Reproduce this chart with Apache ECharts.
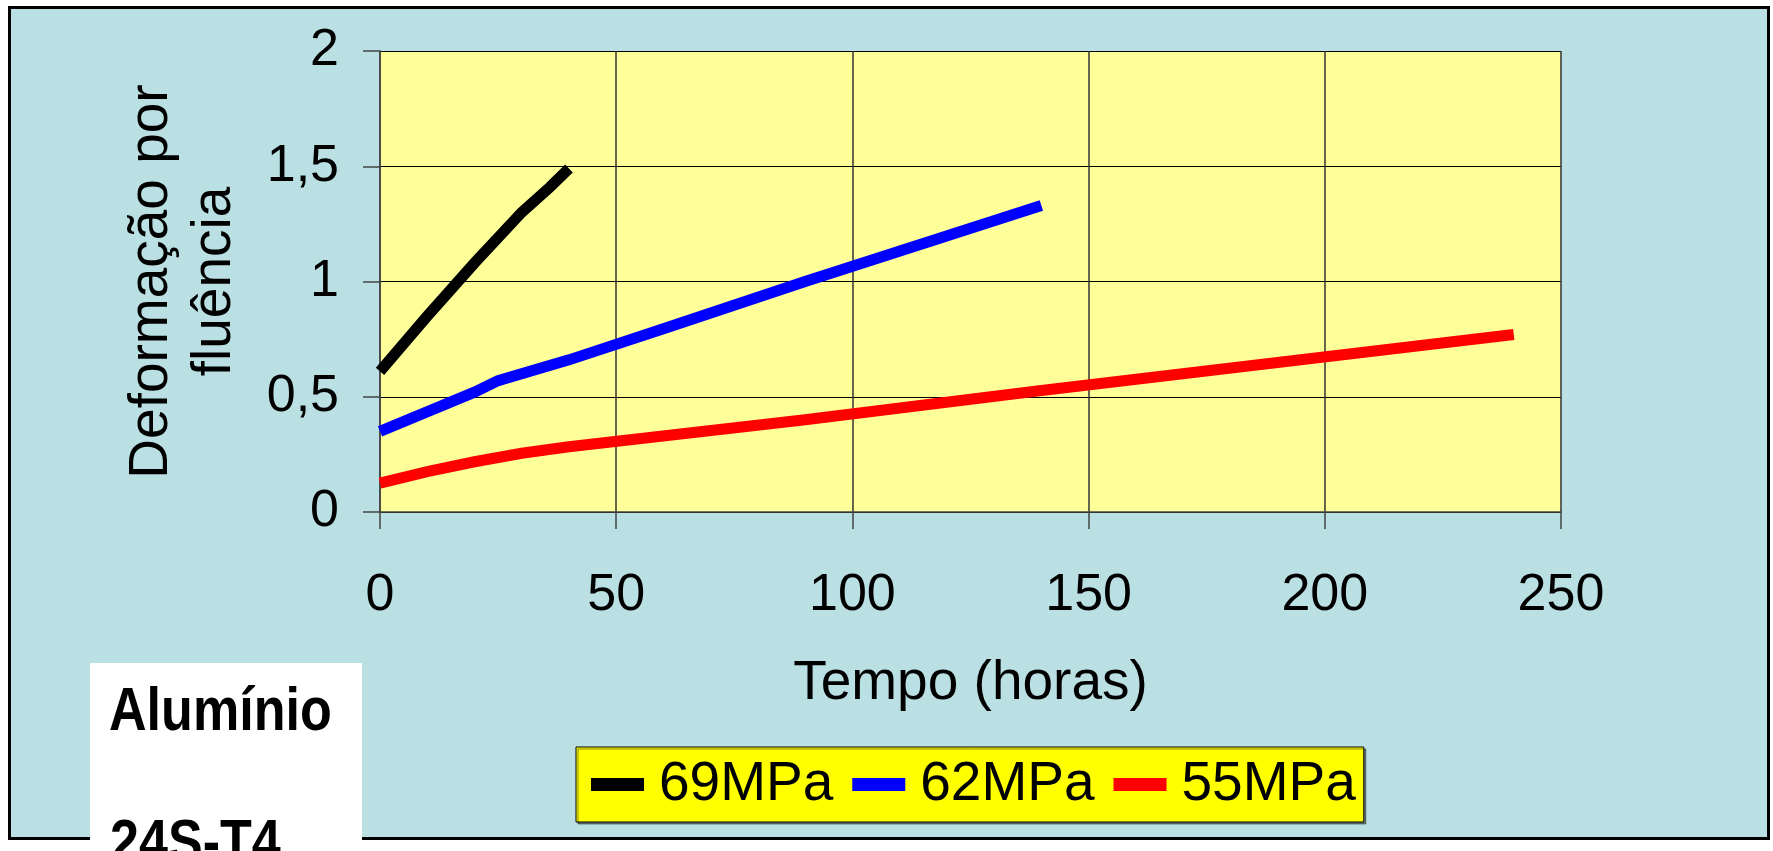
<!DOCTYPE html>
<html>
<head>
<meta charset="utf-8">
<script src="https://cdn.jsdelivr.net/npm/echarts@6/dist/echarts.min.js"></script>
<style>
  html, body { margin: 0; padding: 0; background: #ffffff; }
  #panel {
    position: absolute; left: 8px; top: 6px; width: 1756px; height: 828px;
    background: #BBE0E3; border: 3px solid #000;
  }
  #chart { position: absolute; left: 0; top: 0; width: 1773px; height: 851px; }
</style>
</head>
<body>
<div id="panel"></div>
<div id="chart"></div>
<script>
// Creep strain of aluminium 24S-T4 at three stress levels
const seriesNames = ['69MPa', '62MPa', '55MPa'];
const seriesColors = ['#000000', '#0000FF', '#FF0000'];

const hours69 = [0, 10, 20, 30, 36, 40];
const strain69 = [0.61, 0.85, 1.08, 1.30, 1.41, 1.49];

const hours62 = [0, 20, 25, 40, 60, 90, 140];
const strain62 = [0.35, 0.52, 0.57, 0.66, 0.795, 1.0, 1.33];

const hours55 = [0, 10, 20, 30, 40, 90, 140, 240];
const strain55 = [0.125, 0.175, 0.218, 0.255, 0.283, 0.40, 0.527, 0.77];

const xTicks = [0, 50, 100, 150, 200, 250];
const yTicks = [0, 0.5, 1, 1.5, 2];

const FONT = '"Liberation Sans", Arial, sans-serif';

function pairs(xs, ys) { return xs.map((x, i) => [x, ys[i]]); }
const seriesData = [pairs(hours69, strain69), pairs(hours62, strain62), pairs(hours55, strain55)];

const chart = echarts.init(document.getElementById('chart'), null, { renderer: 'canvas' });

const option = {
  backgroundColor: 'transparent',
  animation: false,
  grid: {
    left: 380, top: 51, width: 1181, height: 461,
    show: true, backgroundColor: '#FFFF99', borderWidth: 0
  },
  legend: {
    left: 576, top: 747,
    data: seriesNames,
    icon: 'rect',
    itemWidth: 53, itemHeight: 13, itemGap: 19,
    padding: [10, 8, 10, 15],
    backgroundColor: '#FFFF00',
    borderColor: '#000', borderWidth: 1,
    shadowColor: 'rgba(0,0,0,0.45)', shadowOffsetX: 2, shadowOffsetY: 2, shadowBlur: 0,
    textStyle: { fontFamily: FONT, fontSize: 55, lineHeight: 55, color: '#000', padding: [0, 0, 0, 10] }
  },
  xAxis: {
    type: 'value',
    min: xTicks[0], max: xTicks[xTicks.length - 1], interval: 50,
    name: 'Tempo (horas)', nameLocation: 'middle', nameGap: 144,
    nameTextStyle: { fontFamily: FONT, fontSize: 55, lineHeight: 55, color: '#000' },
    axisLine: { show: true, lineStyle: { color: '#444', width: 1.5 } },
    axisTick: { show: true, length: 17, lineStyle: { color: '#444', width: 1.5 } },
    axisLabel: { fontFamily: FONT, fontSize: 52, lineHeight: 52, color: '#000', margin: 58 },
    splitLine: { show: true, lineStyle: { color: '#333', width: 1.5 } }
  },
  yAxis: {
    type: 'value',
    min: yTicks[0], max: yTicks[yTicks.length - 1], interval: 0.5,
    name: 'Deformação por\nfluência', nameLocation: 'middle', nameGap: 134,
    nameTextStyle: { fontFamily: FONT, fontSize: 55, lineHeight: 63, color: '#000' },
    axisLine: { show: true, lineStyle: { color: '#444', width: 1.5 } },
    axisTick: { show: true, length: 17, lineStyle: { color: '#444', width: 1.5 } },
    axisLabel: {
      fontFamily: FONT, fontSize: 52, color: '#000', margin: 41,
      formatter: v => String(v).replace('.', ',')
    },
    splitLine: { show: true, lineStyle: { color: '#000', width: 1.2 } }
  },
  series: seriesNames.map((name, i) => ({
    name: name,
    type: 'line',
    data: seriesData[i],
    showSymbol: false,
    symbol: 'none',
    color: seriesColors[i],
    itemStyle: { color: seriesColors[i] },
    lineStyle: { color: seriesColors[i], width: 11, cap: 'butt', join: 'miter' },
    z: 3 + (2 - i)
  })),
  graphic: {
    elements: [
      {
        type: 'rect', z: 100,
        shape: { x: 90, y: 663, width: 272, height: 200 },
        style: { fill: '#ffffff' }
      },
      {
        type: 'text', z: 101, x: 109, y: 682, scaleX: 0.84,
        style: { text: 'Alumínio', font: '700 62px ' + FONT, lineHeight: 62, fill: '#000', textVerticalAlign: 'top', verticalAlign: 'top' }
      },
      {
        type: 'text', z: 101, x: 110, y: 814, scaleX: 0.84,
        style: { text: '24S-T4', font: '700 62px ' + FONT, lineHeight: 62, fill: '#000', textVerticalAlign: 'top', verticalAlign: 'top' }
      }
    ]
  }
};

chart.setOption(option);
</script>
</body>
</html>
